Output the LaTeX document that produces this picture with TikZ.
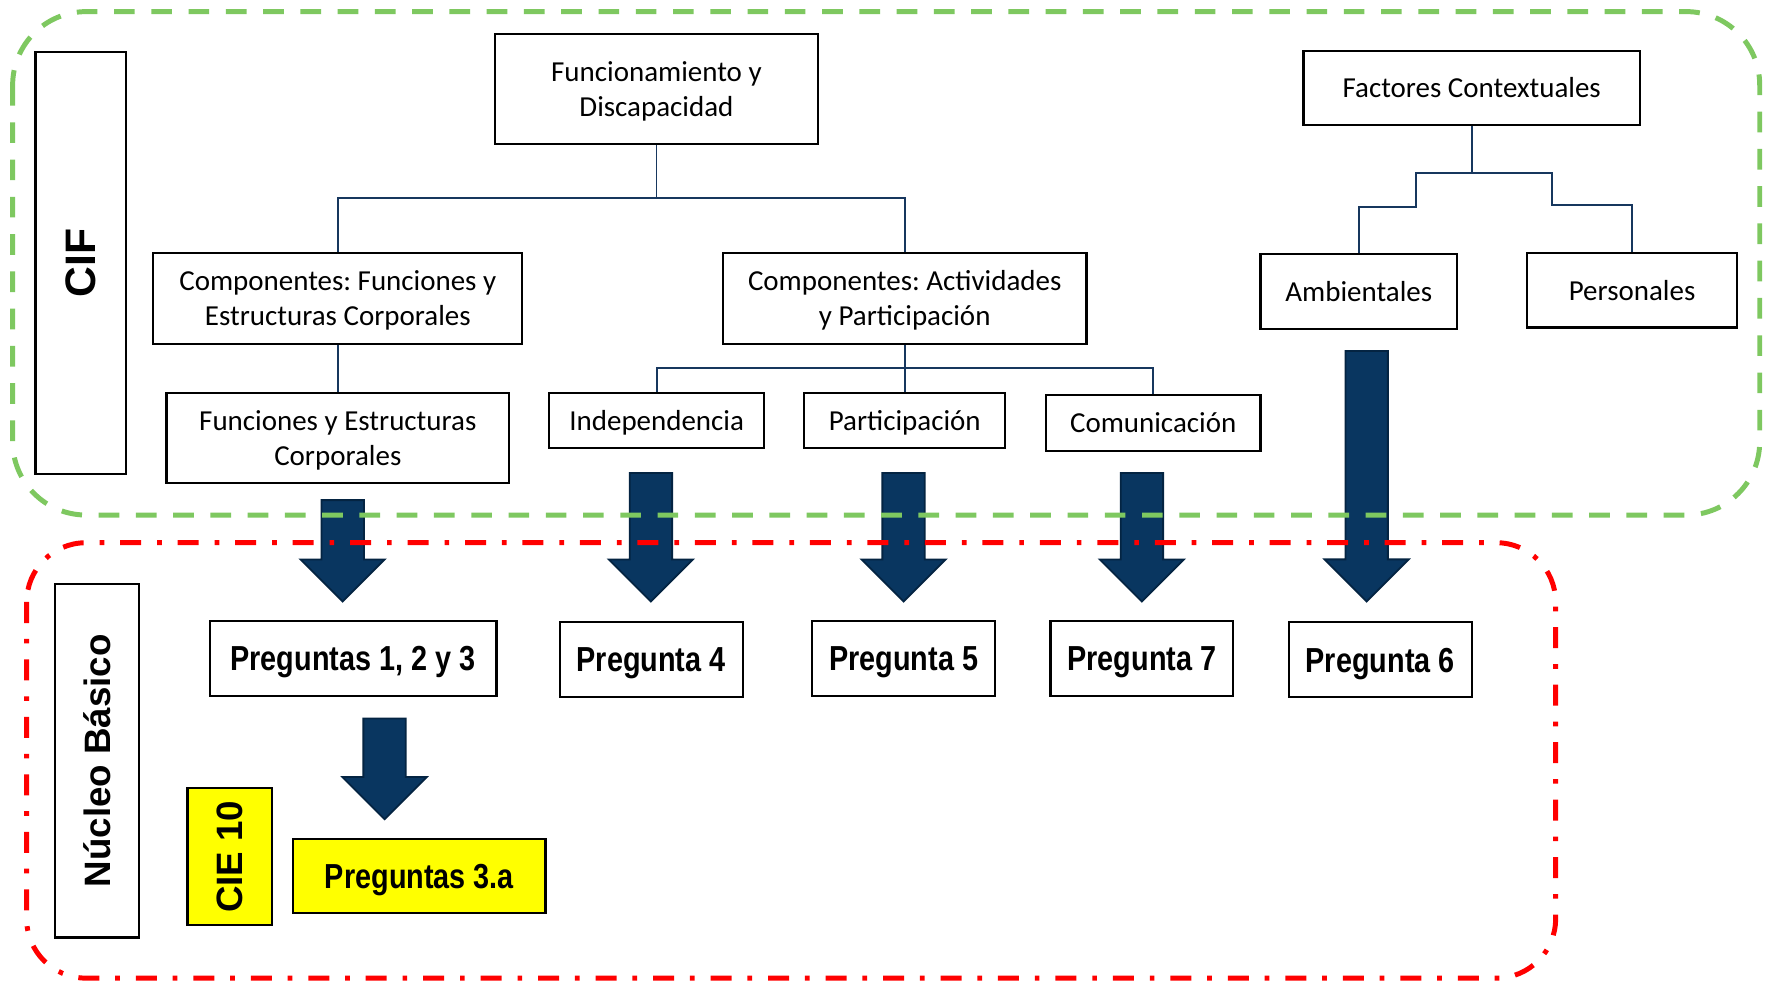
\documentclass[tikz,border=0pt]{standalone}
\usepackage{fontspec}
\setmainfont{Carlito}
\newfontfamily\arialb{Liberation Sans}
\newfontfamily\estrecha{Liberation Sans}[FakeStretch=0.83]
\usepackage{tikz}
\usetikzlibrary{shapes.arrows}
\frenchspacing
\definecolor{azulrama}{RGB}{23,55,94}
\definecolor{azulflecha}{RGB}{9,54,96}
\definecolor{azulborde}{RGB}{4,36,66}
\definecolor{verdecif}{RGB}{126,200,96}
\definecolor{amarillo}{RGB}{255,255,0}
\tikzstyle{caja} = [rectangle, draw=black, line width=1.1pt, fill=white, align=center, inner sep=2pt, text depth=0pt, font=\fontsize{14.6}{17.6}\selectfont]
\tikzstyle{pregunta} = [rectangle, draw=black, line width=1.1pt, fill=white, minimum width=3.24cm, minimum height=1.32cm, text height=12.5pt, text depth=0pt, font=\estrecha\bfseries\fontsize{17.5}{21}\selectfont]
\tikzstyle{vertical} = [rectangle, draw=black, line width=1.1pt, fill=white, rotate=90, font=\arialb\bfseries\fontsize{18.5}{22}\selectfont]
\tikzstyle{flecha} = [single arrow, draw=azulborde, fill=azulflecha, line width=0.9pt, rotate=-90, anchor=tail, inner xsep=0pt, inner ysep=0.36cm, minimum width=1.46cm, single arrow head extend=0.37cm]
\tikzstyle{rama} = [draw=azulrama, line width=0.9pt]
\tikzstyle{marcocif} = [draw=verdecif, line width=2.5pt, dash pattern=on 0.366cm off 0.294cm, rounded corners=1.3cm]
\tikzstyle{marconucleo} = [draw=red, line width=2.5pt, dash pattern=on 0.372cm off 0.28cm on 0.083cm off 0.283cm, rounded corners=1.05cm]

\begin{document}
\begin{tikzpicture}[x=0.02cm, y=-0.02cm]
		\useasboundingbox [fill=white] (0,0) rectangle (1568,868);
		% CIF
		\node (CIF)[vertical, minimum width=7.48cm, minimum height=1.596cm, font=\arialb\bfseries\fontsize{21.5}{25}\selectfont] at (71.4,233) {CIF};
		\node (Funcionamiento)[caja, minimum width=5.724cm, minimum height=1.954cm] at (581.2,78.65) {Funcionamiento y\\Discapacidad};
		\node (Factores Contextuales)[caja, minimum width=5.96cm, minimum height=1.316cm] at (1303,77.8) {Factores Contextuales};
		\node (Comp Funciones)[caja, minimum width=6.536cm, minimum height=1.612cm] at (299.1,264) {Componentes: Funciones y\\Estructuras Corporales};
		\node (Comp Actividades)[caja, minimum width=6.44cm, minimum height=1.612cm] at (801,264) {Componentes: Actividades\\y Participación};
		\node (Ambientales)[caja, minimum width=3.48cm, minimum height=1.32cm] at (1203,258) {Ambientales};
		\node (Personales)[caja, minimum width=3.72cm, minimum height=1.32cm] at (1445,257) {Personales};
		\node (Funciones)[caja, minimum width=6.068cm, minimum height=1.604cm] at (299.1,387.8) {Funciones y Estructuras\\Corporales};
		\node (Independencia)[caja, minimum width=3.8cm, minimum height=0.98cm] at (581.4,372.2) {Independencia};
		\node (Participacion)[caja, minimum width=3.56cm, minimum height=0.98cm] at (801,372.5) {Participación};
		\node (Comunicacion)[caja, minimum width=3.8cm, minimum height=0.98cm] at (1021,374.5) {Comunicación};
		\coordinate (Rama Func) at (581.2,175.6);
		\coordinate (Rama Act) at (801,326.1);
		\coordinate (Rama Fact) at (1303,152.9);
		\coordinate (Paso Amb) at (1253.4,183);
		\coordinate (Paso Per) at (1374,181.5);
		\draw [rama] (Funcionamiento.south) -- (Rama Func) -| (Comp Funciones.north);
		\draw [rama] (Rama Func) -| (Comp Actividades.north);
		\draw [rama] (Comp Funciones.south) -- (Funciones.north);
		\draw [rama] (Comp Actividades.south) -- (Rama Act) -| (Independencia.north);
		\draw [rama] (Rama Act) -| (Comunicacion.north);
		\draw [rama] (Rama Act) -- (Participacion.north);
		\draw [rama] (Factores Contextuales.south) -- (Rama Fact) -| (Paso Amb) -| (Ambientales.north);
		\draw [rama] (Rama Fact) -| (Paso Per) -| (Personales.north);
		% Nucleo Basico
		\node (Nucleo)[vertical, minimum width=6.26cm, minimum height=1.486cm] at (85.9,673.5) {Núcleo Básico};
		\node (CIE)[vertical, fill=amarillo, minimum width=2.42cm, minimum height=1.49cm] at (203.3,758.5) {CIE 10};
		\node (Preguntas 123)[pregunta, minimum width=5.082cm] at (312.6,583.1) {Preguntas 1, 2 y 3};
		\node (Pregunta 4)[pregunta] at (576.5,583.9) {Pregunta 4};
		\node (Pregunta 5)[pregunta] at (800,583) {Pregunta 5};
		\node (Pregunta 7)[pregunta] at (1011,583) {Pregunta 7};
		\node (Pregunta 6)[pregunta] at (1222,584) {Pregunta 6};
		\node (Preguntas 3a)[pregunta, fill=amarillo, minimum width=4.466cm, minimum height=1.312cm] at (371.4,775.8) {Preguntas 3.a};
		% flechas
		\node (Flecha Func)[flecha, minimum height=1.796cm] at (303.4,442) {};
		\node (Flecha Ind)[flecha, minimum height=2.276cm] at (576.3,418) {};
		\node (Flecha Par)[flecha, minimum height=2.276cm] at (800,418) {};
		\node (Flecha Com)[flecha, minimum height=2.276cm] at (1011,418) {};
		\node (Flecha Amb)[flecha, minimum height=4.436cm] at (1210,310) {};
		\node (Flecha CIE)[flecha, minimum height=1.782cm] at (340.5,635.4) {};
		\draw [marcocif] (11.2,10.3) rectangle (1558,456);
		\draw [marconucleo] (23.6,480.5) rectangle (1377.3,866);
	\end{tikzpicture}
\end{document}
